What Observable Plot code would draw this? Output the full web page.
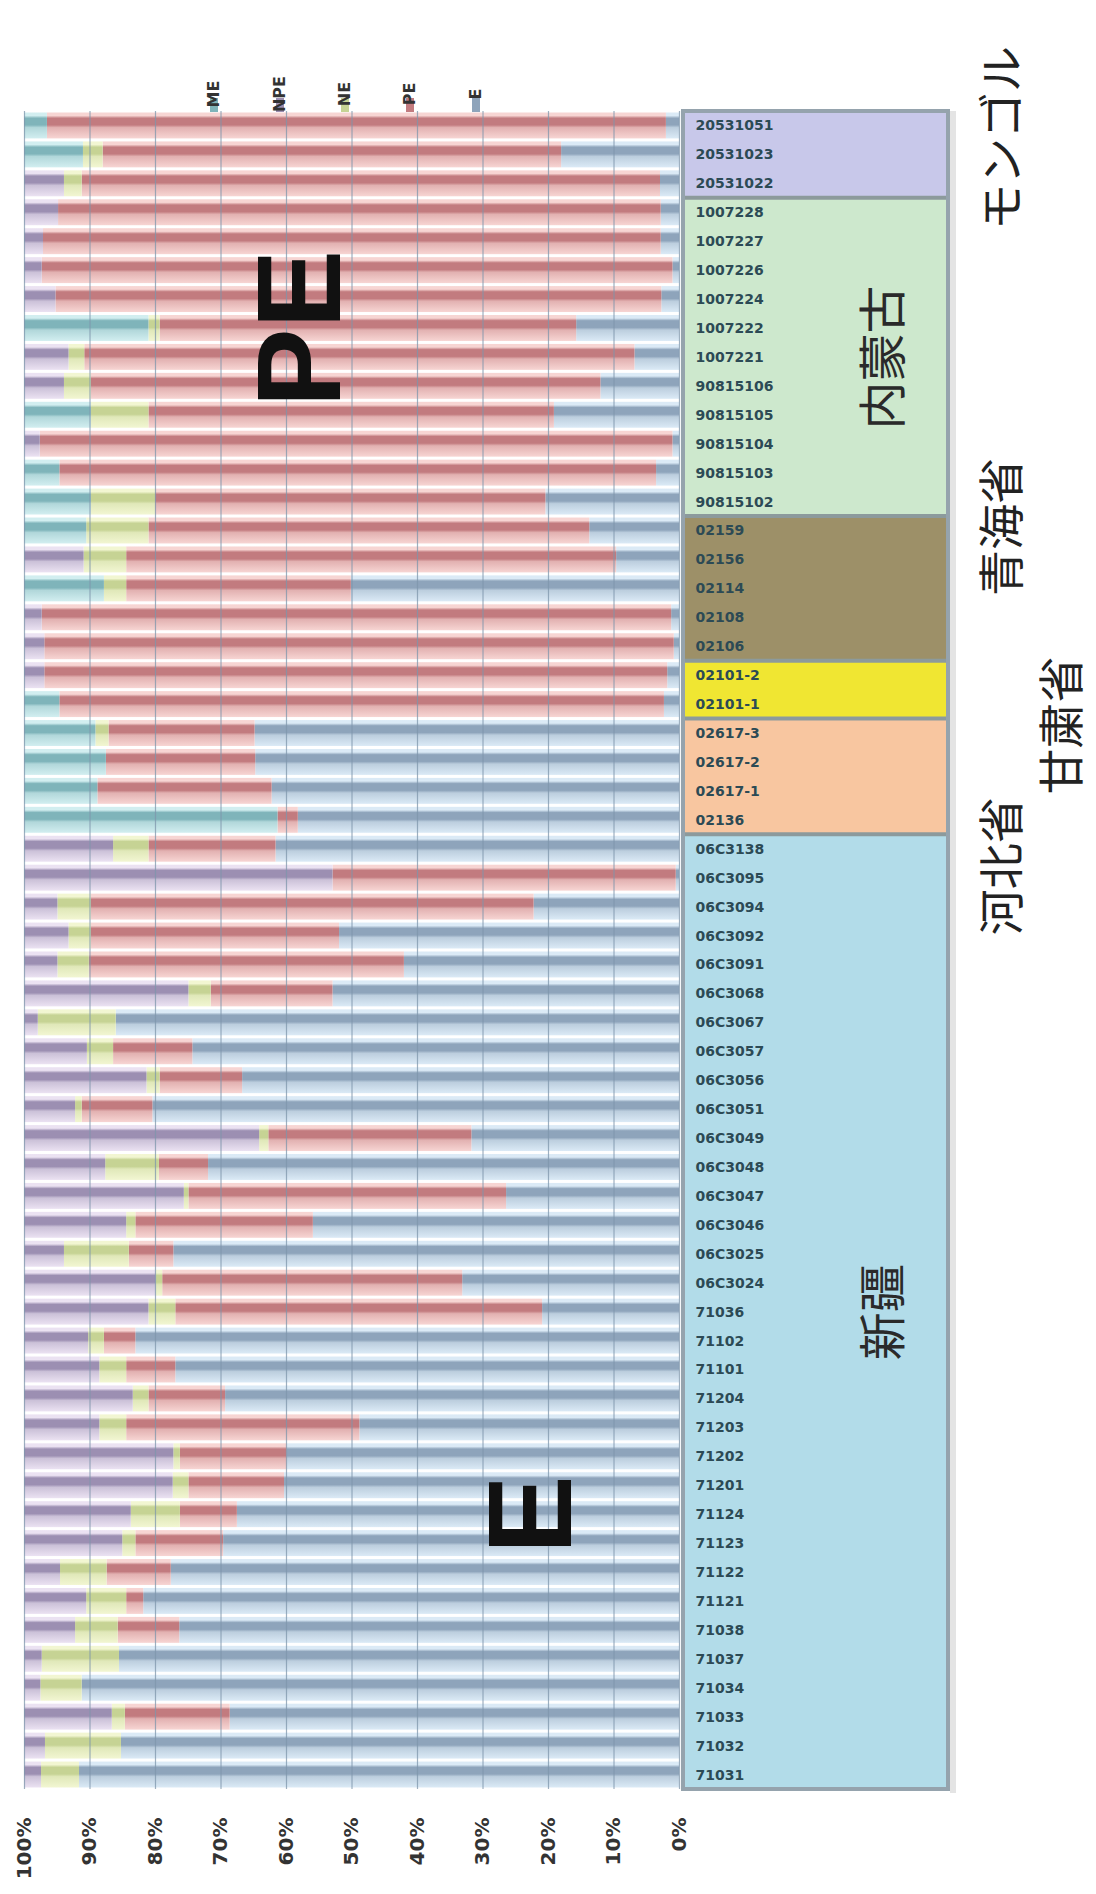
<!DOCTYPE html>
<html><head><meta charset="utf-8">
<script src="https://cdn.jsdelivr.net/npm/d3@7"></script>
<script src="https://cdn.jsdelivr.net/npm/@observablehq/plot@0.6"></script>
<style>body{margin:0;background:#fff}#chart{width:1096px;height:1894px}</style>
</head><body><div id="chart"></div>
<script>
// ---- data ----
const categories = ["20531051","20531023","20531022","1007228","1007227","1007226","1007224","1007222","1007221","90815106","90815105","90815104","90815103","90815102","02159","02156","02114","02108","02106","02101-2","02101-1","02617-3","02617-2","02617-1","02136","06C3138","06C3095","06C3094","06C3092","06C3091","06C3068","06C3067","06C3057","06C3056","06C3051","06C3049","06C3048","06C3047","06C3046","06C3025","06C3024","71036","71102","71101","71204","71203","71202","71201","71124","71123","71122","71121","71038","71037","71034","71033","71032","71031"];
const seriesNames = ["E","PE","NE","NPE","ME"];
const E   = [2,18,2.9,2.8,2.8,1,2.7,15.7,6.8,12,19.1,1,3.5,20.4,13.7,9.6,50.1,1.2,0.8,1.8,2.3,64.8,64.7,62.2,58.2,61.6,0.5,22.2,51.9,42,52.9,86,74.3,66.7,80.4,31.7,71.9,26.4,55.9,77.2,33.1,20.9,83,76.9,69.3,48.8,59.9,60.3,67.5,69.6,77.6,81.8,76.3,85.5,91.2,68.6,85.2,91.6];
const PE  = [94.5,70,88.3,92,94.3,96.3,92.5,63.6,84,77.8,61.9,96.6,91.1,59.6,67.3,74.8,34.3,96.1,96.1,95.1,92.3,22.3,22.8,26.6,3.1,19.4,52.4,67.6,37.9,48.1,18.6,0,12.1,12.6,10.8,31,7.5,48.5,27.1,6.8,45.8,56,4.8,7.5,11.7,35.6,16.3,14.6,8.7,13.4,9.8,2.6,9.4,0,0,16,0,0];
const NE  = [0,3,2.7,0,0,0,0,1.7,2.4,4.1,8.8,0,0,9.8,9.5,6.5,3.4,0,0,0,0,2,0,0,0,5.4,0,5.1,3.4,4.8,3.4,11.9,4,2,1,1.4,8.2,0.7,1.4,9.9,1,4.1,2.4,4.1,2.4,4.1,1,2.4,7.5,2,7.1,6.1,6.5,11.8,6.3,2,11.6,5.8];
const NPE = [0,0,6.1,5.2,2.9,2.7,4.8,0,6.8,6.1,0,2.4,0,0,0,9.1,0,2.7,3.1,3.1,0,0,0,0,0,13.6,47.1,5.1,6.8,5.1,25.1,2.1,9.6,18.7,7.8,35.9,12.4,24.4,15.6,6.1,20.1,19,9.8,11.5,16.6,11.5,22.8,22.7,16.3,15,5.5,9.5,7.8,2.7,2.5,13.4,3.2,2.6];
const ME  = [3.5,9,0,0,0,0,0,19,0,0,10.2,0,5.4,10.2,9.5,0,12.2,0,0,0,5.4,10.9,12.5,11.2,38.7,0,0,0,0,0,0,0,0,0,0,0,0,0,0,0,0,0,0,0,0,0,0,0,0,0,0,0,0,0,0,0,0,0];
const xTicks = [0,0.1,0.2,0.3,0.4,0.5,0.6,0.7,0.8,0.9,1];
const groupSizes = [3,11,5,2,4,33];
const innerRegionLabels = [{cat:"1007221", text:"内蒙古"},{cat:"71036", text:"新疆"}];
const outerRegionLabels = [{cat:"20531051", text:"モンゴル"},{cat:"02159", text:"青海省"},{cat:"02617-3", text:"甘粛省"},{cat:"06C3095", text:"河北省"}];
const bigLabels = [{cat:"1007222", v:0.576, text:"PE"},{cat:"71124", v:0.224, text:"E"}];

// ---- styles / layout ----
const outerCol = [0, 0, 1, 0];
const outerDy = [12, -4, -8, -12];
const light = {E:"#dbeaf6", PE:"#f7d5d3", NE:"#f2f6d2", NPE:"#ebe2f2", ME:"#d2eef0"};
const dark  = {E:"#8ea4bb", PE:"#c27b7f", NE:"#c6d394", NPE:"#9c8fb2", ME:"#7fb4ba"};
const groupFills = ["#c8c8ea","#cde8cd","#9d9068","#f0e632","#f8c6a0","#b2dce9"];

const table = [];
const vals = {E, PE, NE, NPE, ME};
categories.forEach((c,i) => seriesNames.forEach(s => table.push({cat:c, series:s, value:vals[s][i]})));

const W = 1096, H = 1894;
const plot = Plot.plot({
  width: W, height: H,
  marginTop: 111, marginBottom: 105, marginLeft: 24, marginRight: 417,
  style: {fontFamily: "'DejaVu Sans', sans-serif", background: "#fff", overflow: "visible"},
  x: {domain: [0, 1], reverse: true},
  y: {domain: categories, padding: 0, axis: null},
  color: {domain: seriesNames, range: seriesNames.map(s => `url(#grad${s})`)},
  marks: [
    Plot.barX(table, Plot.stackX({x: "value", y: "cat", fill: "series", order: seriesNames, offset: "normalize", insetTop: 1.5, insetBottom: 1.5})),
    Plot.gridX({ticks: xTicks, stroke: "#7d96ab", strokeOpacity: 0.75, strokeWidth: 1.2}),
    Plot.axisX({ticks: xTicks, tickFormat: d => Math.round(d * 100) + "%", tickSize: 0, tickPadding: 28, rotate: -90, textAnchor: "end", lineAnchor: "middle", fontSize: 20, fill: "#333", fontWeight: "bold", label: null}),
    Plot.text(categories, {y: d => d, text: d => d, frameAnchor: "right", dx: 16, textAnchor: "start", fontSize: 14, fontWeight: "bold", fill: "#2c4a55"}),
    Plot.text(innerRegionLabels, {y: "cat", text: "text", frameAnchor: "right", textAnchor: "middle", dx: 205, rotate: -90, fontSize: 48, fill: "#2a2a2a", fontFamily: "'Noto Sans CJK JP'"}),
    Plot.text(outerRegionLabels, {y: "cat", text: "text", frameAnchor: "right", textAnchor: "middle", dx: 324, rotate: -90, fontSize: 46, fill: "#222", fontFamily: "'Noto Sans CJK JP'"}),
    Plot.text(bigLabels, {x: "v", y: "cat", text: "text", rotate: -90, fontSize: 118, fontWeight: "bold", fill: "#111", fontFamily: "'Liberation Sans', sans-serif"})
  ]
});
document.getElementById("chart").appendChild(plot);
const svg = d3.select(plot);

// shift outer region labels into their columns
const colShift = [0, 60];
const textGroups = plot.querySelectorAll("g[aria-label='text']");
d3.select(textGroups[2]).selectAll("text").attr("transform", function(d, i) {
  const t = this.getAttribute("transform");
  return t.replace(/translate\(([-\d.]+),([-\d.]+)\)/, (m, a, b) => `translate(${+a + colShift[outerCol[i]]},${+b + outerDy[i]})`);
});

// gradients
const defs = svg.append("defs");
seriesNames.forEach(s => {
  const mid = d3.interpolateRgb(light[s], dark[s])(0.4);
  const g = defs.append("linearGradient").attr("id", `grad${s}`).attr("x1", 0).attr("y1", 0).attr("x2", 0).attr("y2", 1);
  [[0, light[s]], [0.12, light[s]], [0.22, dark[s]], [0.48, dark[s]], [0.58, mid], [1, light[s]]]
    .forEach(([o, c]) => g.append("stop").attr("offset", o).attr("stop-color", c));
});

// label panel behind everything
const ys = plot.scale("y");
const bw = ys.bandwidth;
const px0 = 683, px1 = 948;
const panel = svg.insert("g", ":first-child");
let start = 0;
const bounds = [];
groupSizes.forEach((n, gi) => {
  const y0 = ys.apply(categories[start]);
  const y1 = ys.apply(categories[start + n - 1]) + bw;
  panel.append("rect").attr("x", px0).attr("y", y0).attr("width", px1 - px0).attr("height", y1 - y0).attr("fill", groupFills[gi]);
  bounds.push(y0);
  start += n;
});
bounds.slice(1).forEach(y => panel.append("line").attr("x1", px0).attr("x2", px1).attr("y1", y).attr("y2", y).attr("stroke", "#8c9a9c").attr("stroke-width", 4));
const yTop = ys.apply(categories[0]), yBot = ys.apply(categories[categories.length - 1]) + bw;
panel.append("rect").attr("x", px0).attr("y", yTop).attr("width", px1 - px0).attr("height", yBot - yTop).attr("fill", "none").attr("stroke", "#95a3ad").attr("stroke-width", 4);
panel.append("rect").attr("x", px1 + 2).attr("y", yTop).attr("width", 6).attr("height", yBot - yTop + 4).attr("fill", "#e4e4e4");

// legend (top)
const legendX = [214, 280, 345, 410, 476];
const legendOrder = ["ME","NPE","NE","PE","E"];
const lg = svg.append("g");
legendOrder.forEach((s, i) => {
  lg.append("rect").attr("x", legendX[i] - 4).attr("y", 98).attr("width", 8).attr("height", 14).attr("fill", dark[s]);
  lg.append("text").attr("transform", `translate(${legendX[i] + 5},94) rotate(-90)`).attr("font-size", 16).attr("font-weight", "bold").attr("fill", "#333").text(s);
});
</script>
</body></html>
